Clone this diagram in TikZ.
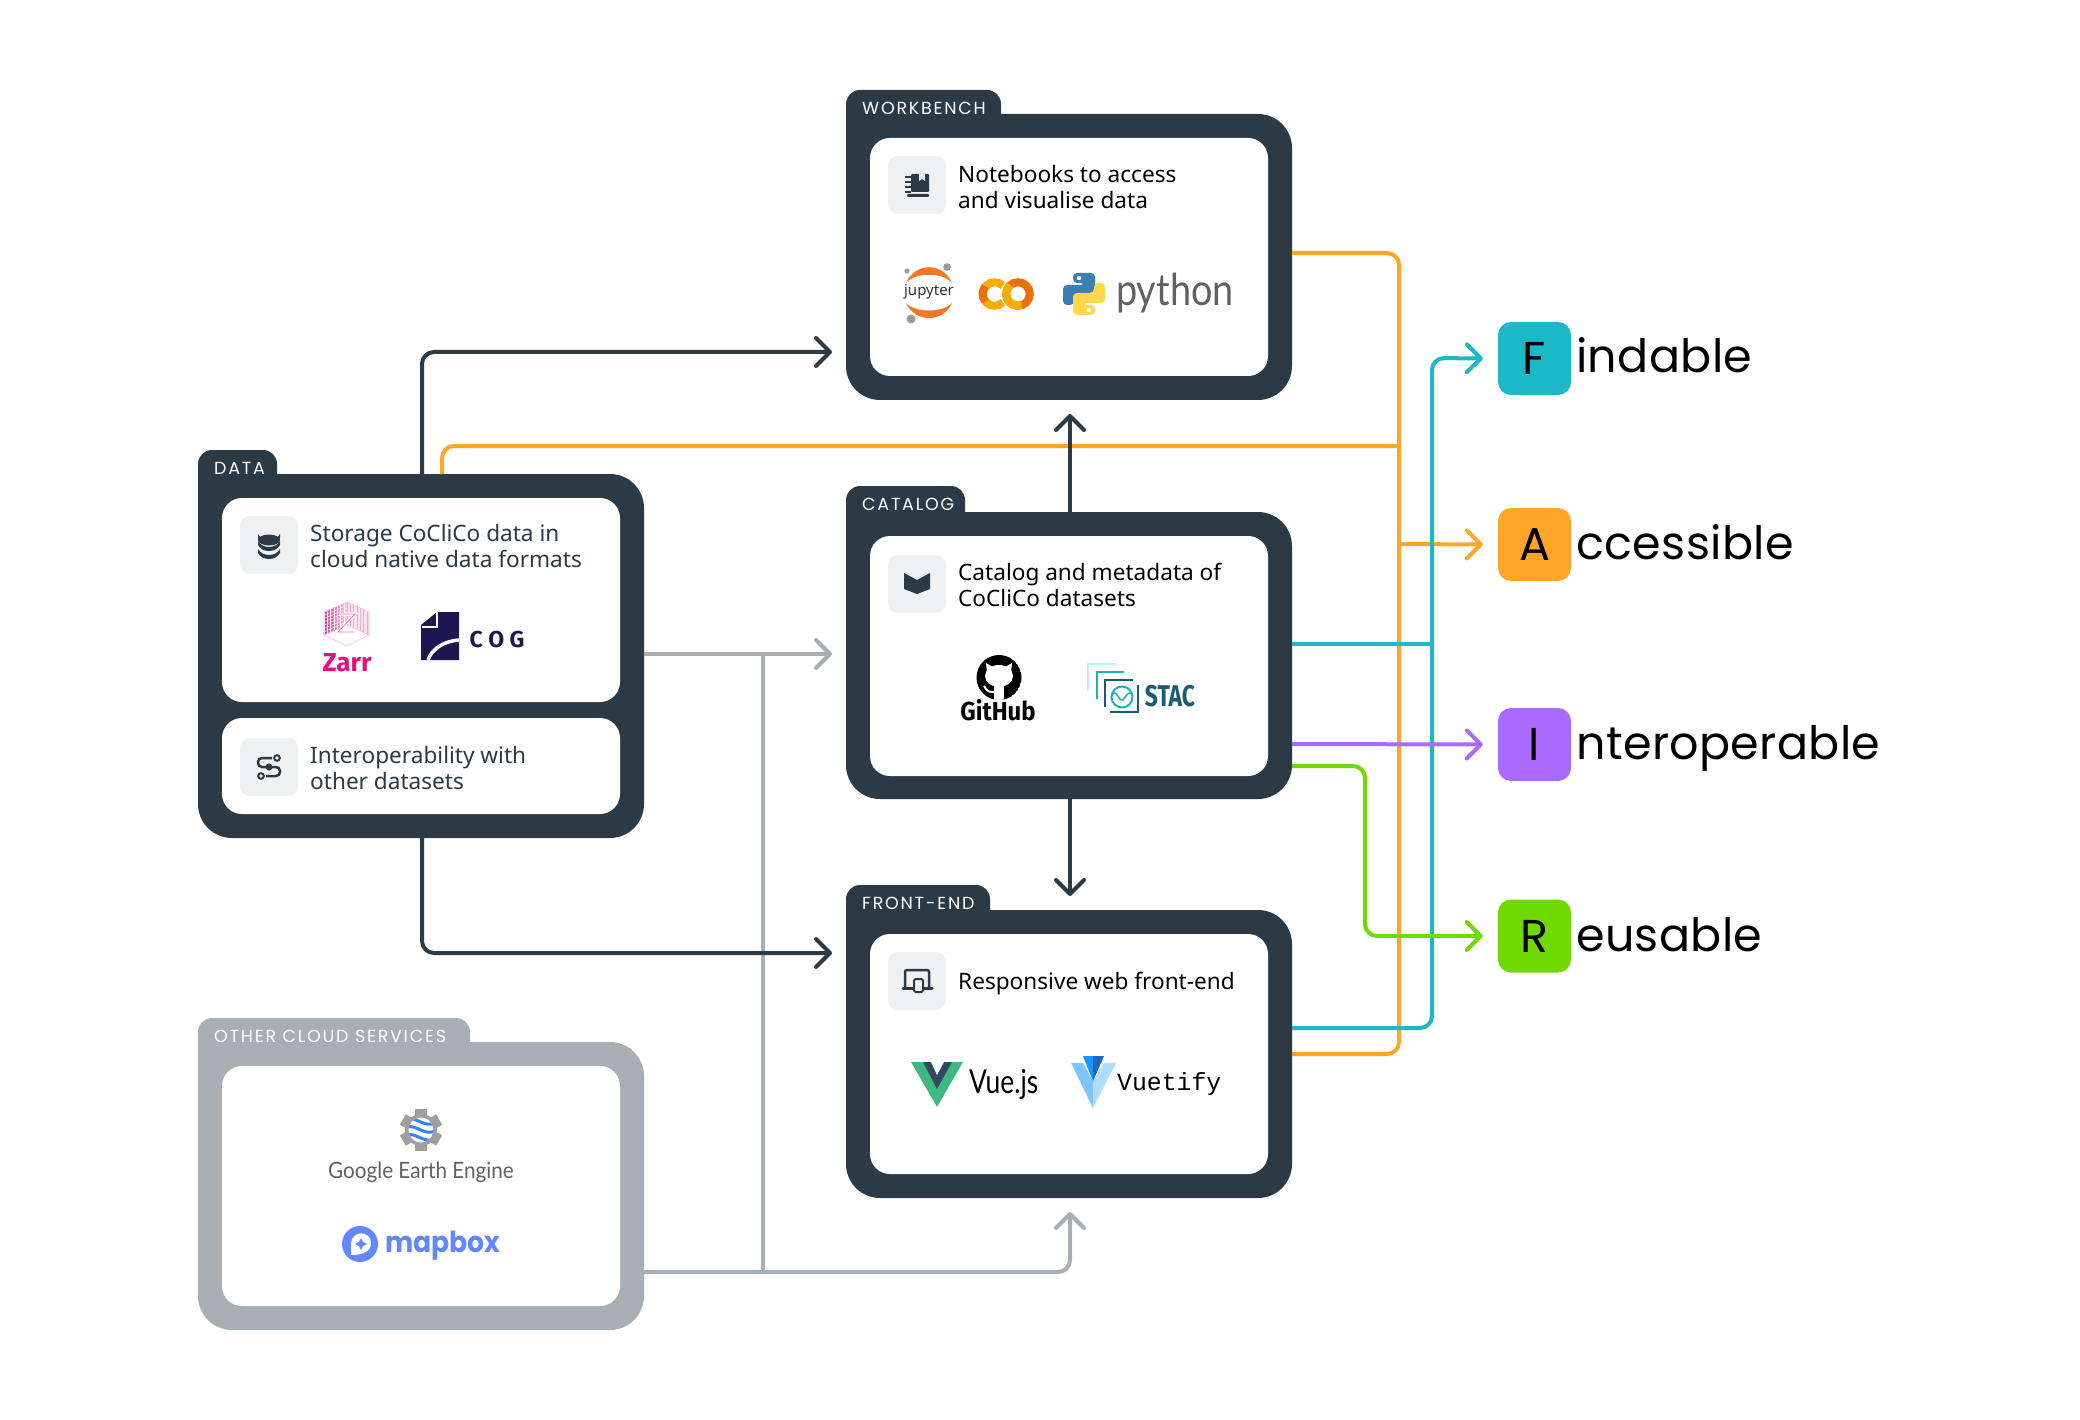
\documentclass[tikz,border=0pt]{standalone}
\usepackage{fontspec}
\setmainfont{Noto Sans}
\newfontfamily\tabfont[LetterSpace=10]{Poppins}
\newfontfamily\fairfont[LetterSpace=0.8]{Poppins}
\newfontfamily\mapfont{Poppins}
\newfontfamily\logofont{Lato}
\newfontfamily\boldlogo{Fira Sans}
\newfontfamily\monofont{Liberation Mono}
\usetikzlibrary{arrows.meta}

\definecolor{slate}{HTML}{2B3A45}
\definecolor{cloud}{HTML}{A7AFB5}
\definecolor{iconbg}{HTML}{EFF0F2}
\definecolor{orangeF}{HTML}{FFA629}
\definecolor{tealF}{HTML}{1CB8C8}
\definecolor{purpleF}{HTML}{A96BFF}
\definecolor{greenF}{HTML}{6FD900}
\definecolor{jupyterc}{HTML}{F37726}
\definecolor{colaby}{HTML}{F9AB00}
\definecolor{colabo}{HTML}{E8710A}
\definecolor{pyblue}{HTML}{3D7EB0}
\definecolor{pyyellow}{HTML}{FFD84B}
\definecolor{zarrc}{HTML}{E6107A}
\definecolor{cogc}{HTML}{1E1650}
\definecolor{stacd}{HTML}{1B5A74}
\definecolor{stact}{HTML}{1CB3B3}
\definecolor{vueg}{HTML}{41B883}
\definecolor{vued}{HTML}{34495E}
\definecolor{vtfa}{HTML}{7BC6FF}
\definecolor{vtfb}{HTML}{AEDDFF}
\definecolor{vtfc}{HTML}{1697F6}
\definecolor{vtfd}{HTML}{1867C0}
\definecolor{mapc}{HTML}{6287FF}

\tikzset{
  panel/.style={rectangle,rounded corners=34pt,inner sep=0pt,fill=#1},
  tabbox/.style={rectangle,rounded corners=14pt,inner sep=0pt,fill=#1},
  tabtext/.style={anchor=west,inner sep=0pt,text=white,font=\tabfont\fontsize{17.5}{20}\selectfont},
  card/.style={rectangle,rounded corners=20pt,inner sep=0pt,fill=white},
  iconbox/.style={rectangle,rounded corners=10pt,inner sep=0pt,fill=iconbg,minimum width=58pt,minimum height=58pt},
  desc/.style={anchor=west,inner sep=0pt,align=left,font=\fontsize{22.6}{26}\selectfont},
  letterbox/.style={rectangle,rounded corners=13pt,inner sep=0pt,fill=#1,minimum width=73pt,minimum height=73pt,font=\fairfont\fontsize{46}{50}\selectfont},
  fairword/.style={anchor=base west,inner sep=0pt,font=\fairfont\fontsize{46}{50}\selectfont},
  link/.style={line width=4pt,rounded corners=12pt,draw=#1,-{Straight Barb[length=14pt,width=28pt,round]}},
  wire/.style={line width=4pt,rounded corners=12pt,draw=#1},
}

\begin{document}
\begin{tikzpicture}[x=1pt,y=-1pt]
  \useasboundingbox (0,0) rectangle (2080,1420);

  % connector ends
  \foreach \pname/\px/\py in {datatop/422/474,wbin/832/352,databot/422/838,fein/832/953,
    dataright/644/654,catin/832/654,grayjoin/763/654,graylow/763/1272,othright/644/1272,
    feback/1070/1212,cattop/1070/512,wbback/1070/414,catbot/1070/799,fetop/1070/896,
    dataor/442/474,orjoin/1399/446,wbout/1292/253,ortop/1399/253,orbot/1399/1054,feor/1292/1054,
    oracc/1399/544,feteal/1292/1028,tealbot/1432/1028,tealtop/1432/358,catteal/1292/644,
    tealjoin/1432/644,catpur/1292/744,catgreen/1292/766,greentop/1365/766,greenbot/1365/936}
    \coordinate (\pname) at (\px,\py);

  % tabs, panels
  \foreach \pname/\pcol/\tx/\tw/\ty/\bx/\by/\bh/\ltext in {
    wb/slate/846/155/90/1069/257/286/WORKBENCH,
    cat/slate/846/119/486/1069/655.5/287/CATALOG,
    fe/slate/846/144/885/1069/1054/288/FRONT-END,
    data/slate/198/79/450/421/656/364/DATA,
    oth/cloud/198/272/1018/421/1186/288/OTHER CLOUD SERVICES}
  {
    \node[tabbox=\pcol,minimum width=\tw pt,minimum height=70pt] (\pname tab) at (\tx+\tw/2,\ty+35) {};
    \node[panel=\pcol,minimum width=446pt,minimum height=\bh pt] (\pname) at (\bx,\by) {};
    \node[tabtext] (\pname label) at (\tx+16,\ty+18) {\ltext};
  }

  % cards
  \node[card,minimum width=398pt,minimum height=238pt] (wbcard) at (1069,257) {};
  \node[card,minimum width=398pt,minimum height=240pt] (catcard) at (1069,656) {};
  \node[card,minimum width=398pt,minimum height=240pt] (fecard) at (1069,1054) {};
  \node[card,minimum width=398pt,minimum height=204pt] (datacard) at (421,600) {};
  \node[card,minimum width=398pt,minimum height=96pt] (inopcard) at (421,766) {};
  \node[card,minimum width=398pt,minimum height=240pt] (othcard) at (421,1186) {};

  \node[iconbox] (wbicon) at (917,185) {};
  \node[iconbox] (caticon) at (917,584) {};
  \node[iconbox] (feicon) at (917,981) {};
  \node[iconbox] (dataicon) at (269,545) {};
  \node[iconbox] (inopicon) at (269,767) {};

  \node[desc] (wbtext) at (958,187) {Notebooks to access\\and visualise data};
  \node[desc] (cattext) at (958,585) {Catalog and metadata of\\CoCliCo datasets};
  \node[desc] (fetext) at (958,984) {Responsive web front-end};
  \node[desc,text=slate] (datatext) at (310,546) {Storage CoCliCo data in\\cloud native data formats};
  \node[desc,text=slate] (inoptext) at (310,768) {Interoperability with\\other datasets};

  % small icons
  \fill[slate,rounded corners=1pt] (911,174) rectangle (929,192);
  \fill[iconbg] (919,174) -- (919,181) -- (922,179) -- (925,181) -- (925,174) -- cycle;
  \fill[slate,rounded corners=1pt] (907,194) rectangle (929,197);
  \foreach \py in {177,182,187,192}
    \draw[slate,line width=2pt] (905,\py) -- (911,\py);

  \fill[slate] (904,573) -- (917,580) -- (930,573) -- (930,589) -- (917,594) -- (904,589) -- cycle;

  \draw[slate,line width=2.5pt,rounded corners=2pt] (905,988) -- (905,970) -- (929,970) -- (929,988);
  \draw[slate,line width=3pt,line cap=round] (903,988) -- (932,988);
  \draw[slate,fill=iconbg,line width=2pt,rounded corners=1.5pt] (914,979) rectangle (923,992);

  \foreach \py in {534,541,549}
    \fill[slate] (258,\py) .. controls (262,\py+8) and (276,\py+8) .. (280,\py) -- (280,\py+4) .. controls (276,\py+12) and (262,\py+12) .. (258,\py+4) -- cycle;
  \fill[slate] (269,540) ellipse [x radius=11,y radius=5.5];

  \draw[slate,line width=2.5pt,rounded corners=4pt] (272,758) -- (258,758) -- (258,767) -- (280,767) -- (280,776) -- (266,776);
  \draw[slate,fill=iconbg,line width=2pt] (277,758) circle [radius=2.8];
  \draw[slate,fill=iconbg,line width=2pt] (261,776) circle [radius=2.8];
  \fill[slate] (269,767) circle [radius=3.5];

  % jupyter
  \fill[jupyterc] (906,283) .. controls (915,262) and (943,262) .. (952,283) .. controls (943,272) and (915,272) .. (906,283) -- cycle;
  \fill[jupyterc] (906,303) .. controls (915,323) and (943,323) .. (952,303) .. controls (943,313) and (915,313) .. (906,303) -- cycle;
  \fill[gray!80] (947,267) circle [radius=3.8];
  \fill[gray!80] (907,271) circle [radius=2.6];
  \fill[gray!80] (911,319) circle [radius=4.5];
  \node[inner sep=0pt,text=slate,font=\fontsize{15}{16}\selectfont] (jupyter) at (929,292) {jupyter};

  % colab
  \draw[line width=8pt,color=colaby] (994.5,294) ++(45:11.8) arc (45:315:11.8);
  \draw[line width=8pt,color=colabo] (994.5,294) ++(140:11.8) arc (140:220:11.8);
  \draw[line width=8pt,color=colabo] (1018,294) circle [radius=11.8];
  \draw[line width=8pt,color=colaby] (1018,294) ++(70:11.8) arc (70:230:11.8);

  % python
  \fill[pyblue,rounded corners=4pt] (1073,273) -- (1095,273) -- (1095,295) -- (1074,295) -- (1074,305) -- (1063,305) -- (1063,285) -- (1085,285) -- (1085,283) -- (1073,283) -- cycle;
  \fill[pyyellow,rounded corners=4pt] (1095,315) -- (1073,315) -- (1073,293) -- (1094,293) -- (1094,283) -- (1105,283) -- (1105,303) -- (1083,303) -- (1083,305) -- (1095,305) -- cycle;
  \fill[white] (1079,278) circle [radius=2.2];
  \fill[white] (1089,310) circle [radius=2.2];
  \node[anchor=base west,inner sep=0pt,text=black!62,xscale=.86,transform shape,font=\logofont\fontsize{44}{46}\selectfont] (python) at (1116,306) {python};

  % zarr
  \shade[left color=zarrc!85,right color=zarrc!25] (324,612) -- (347,602) -- (347,625) -- (324,635) -- cycle;
  \fill[zarrc!12] (347,602) -- (369,612) -- (369,635) -- (347,625) -- cycle;
  \foreach \pk in {0,3.3,...,22}
    \draw[white,line width=.4pt] (324+\pk,612-\pk*.44) -- (324+\pk,635-\pk*.44);
  \foreach \pk in {0,3.3,...,22}
    \draw[white,line width=.4pt] (324,612+\pk) -- (347,602+\pk);
  \foreach \pk in {0,3.3,...,22}
    \draw[zarrc!35,line width=.5pt] (347+\pk,602+\pk*.45) -- (347+\pk,625+\pk*.45);
  \draw[zarrc!30,line width=.6pt] (324,612) -- (347,602) -- (369,612) -- (369,635) -- (347,646) -- (324,635) -- cycle;
  \draw[zarrc!30,line width=.6pt] (324,635) -- (347,625) -- (369,635);
  \draw[white,line width=3pt] (339,614) -- (355,614) -- (338,632) -- (354,632);
  \draw[zarrc!60,line width=.7pt] (339,614) -- (355,614) -- (338,632) -- (354,632);
  \node[anchor=base,inner sep=0pt,text=zarrc,font=\boldlogo\bfseries\fontsize{26}{28}\selectfont] (zarr) at (347,671) {Zarr};

  % cog
  \fill[cogc] (437,612) -- (459,612) -- (459,660) -- (421,660) -- (421,625) -- cycle;
  \draw[white,line width=1.5pt] (437,612) -- (437,627) -- (422,627);
  \draw[white,line width=3.5pt] (428,660) .. controls (432,648) and (445,641) .. (459,640);
  \node[inner sep=0pt,text=cogc,font=\boldlogo\bfseries\fontsize{23}{25}\selectfont] (cog) at (497,640) {C\kern5.5pt O\kern5.5pt G};

  % github
  \begin{scope}
    \clip (999,677.5) circle [radius=22.5];
    \fill[black] (999,677.5) circle [radius=22.5];
    \fill[white] (999,676) ellipse [x radius=14,y radius=11];
    \fill[white] (986,663) -- (993,667) -- (987,673) -- cycle;
    \fill[white] (1012,663) -- (1005,667) -- (1011,673) -- cycle;
    \fill[white] (993.5,684) rectangle (1004,702);
    \draw[white,line width=2pt] (984,686) .. controls (987,692) and (990,692) .. (994,692);
  \end{scope}
  \node[anchor=base,inner sep=0pt,xscale=.92,transform shape,font=\boldlogo\bfseries\fontsize{26}{28}\selectfont] (github) at (998,720) {GitHub};

  % stac
  \draw[stact!25,line width=2pt] (1088,690) -- (1088,664) -- (1116,664);
  \draw[stact,line width=2pt] (1097,699) -- (1097,672) -- (1124,672);
  \draw[stacd,line width=2pt] (1105,707) -- (1105,680) -- (1133,680);
  \draw[stacd,line width=2pt] (1138,685) -- (1138,712) -- (1110,712);
  \draw[stact,line width=2pt] (1122,697) circle [radius=10.5];
  \draw[stact,line width=1.5pt] (1113,694) .. controls (1118,690) and (1118,702) .. (1123,700) .. controls (1126,696) and (1128,692) .. (1131,693);
  \node[inner sep=0pt,text=stacd,xscale=.76,transform shape,font=\boldlogo\bfseries\fontsize{30}{32}\selectfont] (stac) at (1170,696) {STAC};

  % vue, vuetify
  \fill[vueg] (911,1062) -- (963,1062) -- (937,1107) -- cycle;
  \fill[vued] (923,1062) -- (952,1062) -- (937,1089) -- cycle;
  \fill[white] (931,1062) -- (944,1062) -- (937,1075) -- cycle;
  \node[anchor=base west,inner sep=0pt,xscale=.8,transform shape,font=\logofont\fontsize{33}{35}\selectfont] (vuejs) at (969,1093) {Vue.js};

  \fill[vtfa] (1071,1063) -- (1083,1063) -- (1093,1081) -- (1093,1108) -- cycle;
  \fill[vtfb] (1116,1063) -- (1104,1063) -- (1093,1081) -- (1093,1108) -- cycle;
  \fill[vtfc] (1083,1056) -- (1093,1056) -- (1093,1081) -- cycle;
  \fill[vtfd] (1104,1056) -- (1093,1056) -- (1093,1081) -- cycle;
  \node[anchor=base west,inner sep=0pt,font=\monofont\fontsize{24.8}{26}\selectfont] (vuetify) at (1117,1090) {Vuetify};

  % earth engine
  \foreach \ang in {0,60,...,300}
    \fill[gray!75,rotate around={\ang:(421,1130)}] (415,1109) rectangle (427,1118);
  \fill[gray!75] (421,1130) circle [radius=16];
  \begin{scope}
    \clip (421,1130) circle [radius=12.5];
    \fill[white] (421,1130) circle [radius=12.5];
    \foreach \py in {1122,1130,1138}
      \draw[blue!60!cyan!80,line width=3pt] (407,\py-3) .. controls (415,\py-6) and (425,\py+6) .. (435,\py+1);
  \end{scope}
  \node[anchor=base west,inner sep=0pt,text=black!62,xscale=.92,transform shape,font=\logofont\fontsize{22.5}{24}\selectfont] (gee) at (328,1178) {Google Earth Engine};

  % mapbox
  \fill[mapc] (360,1244) circle [radius=18];
  \fill[white] (351,1255) -- (351,1244) .. controls (351,1230) and (371,1230) .. (371,1243) .. controls (371,1252) and (362,1255) .. (351,1255) -- cycle;
  \fill[mapc] (361,1238) -- (363,1242) -- (367,1244) -- (363,1246) -- (361,1250) -- (359,1246) -- (355,1244) -- (359,1242) -- cycle;
  \node[anchor=base west,inner sep=0pt,text=mapc,xscale=.92,transform shape,font=\mapfont\bfseries\fontsize{29}{33}\selectfont] (mapbox) at (385,1252) {mapbox};

  % FAIR boxes
  \node[letterbox=tealF] (fbox) at (1534.5,358.5) {F};
  \node[letterbox=orangeF] (abox) at (1534.5,544.5) {A};
  \node[letterbox=purpleF] (ibox) at (1534.5,744.5) {I};
  \node[letterbox=greenF] (rbox) at (1534.5,936) {R};
  \node[fairword] (fword) at (1576,373) {indable};
  \node[fairword] (aword) at (1576,559) {ccessible};
  \node[fairword] (iword) at (1576,759) {nteroperable};
  \node[fairword] (rword) at (1576,951) {eusable};

  % links
  \draw[wire=orangeF] (wbout) -- (ortop) -- (orbot) -- (feor);
  \draw[wire=orangeF] (dataor) |- (orjoin);
  \draw[link=orangeF] (oracc) -- ([xshift=-15pt]abox.west);
  \draw[wire=tealF] (catteal) -- (tealjoin);
  \draw[link=tealF] (feteal) -- (tealbot) -- (tealtop) -- ([xshift=-15pt]fbox.west);
  \draw[link=purpleF] (catpur) -- ([xshift=-15pt]ibox.west);
  \draw[link=greenF] (catgreen) -- (greentop) -- (greenbot) -- ([xshift=-15pt]rbox.west);
  \draw[link=cloud] (dataright) -- (catin);
  \draw[wire=cloud] (grayjoin) -- (graylow);
  \draw[link=cloud] (othright) -| (feback);
  \draw[link=slate] (datatop) |- (wbin);
  \draw[link=slate] (databot) |- (fein);
  \draw[link=slate] (cattop) -- (wbback);
  \draw[link=slate] (catbot) -- (fetop);
\end{tikzpicture}
\end{document}
